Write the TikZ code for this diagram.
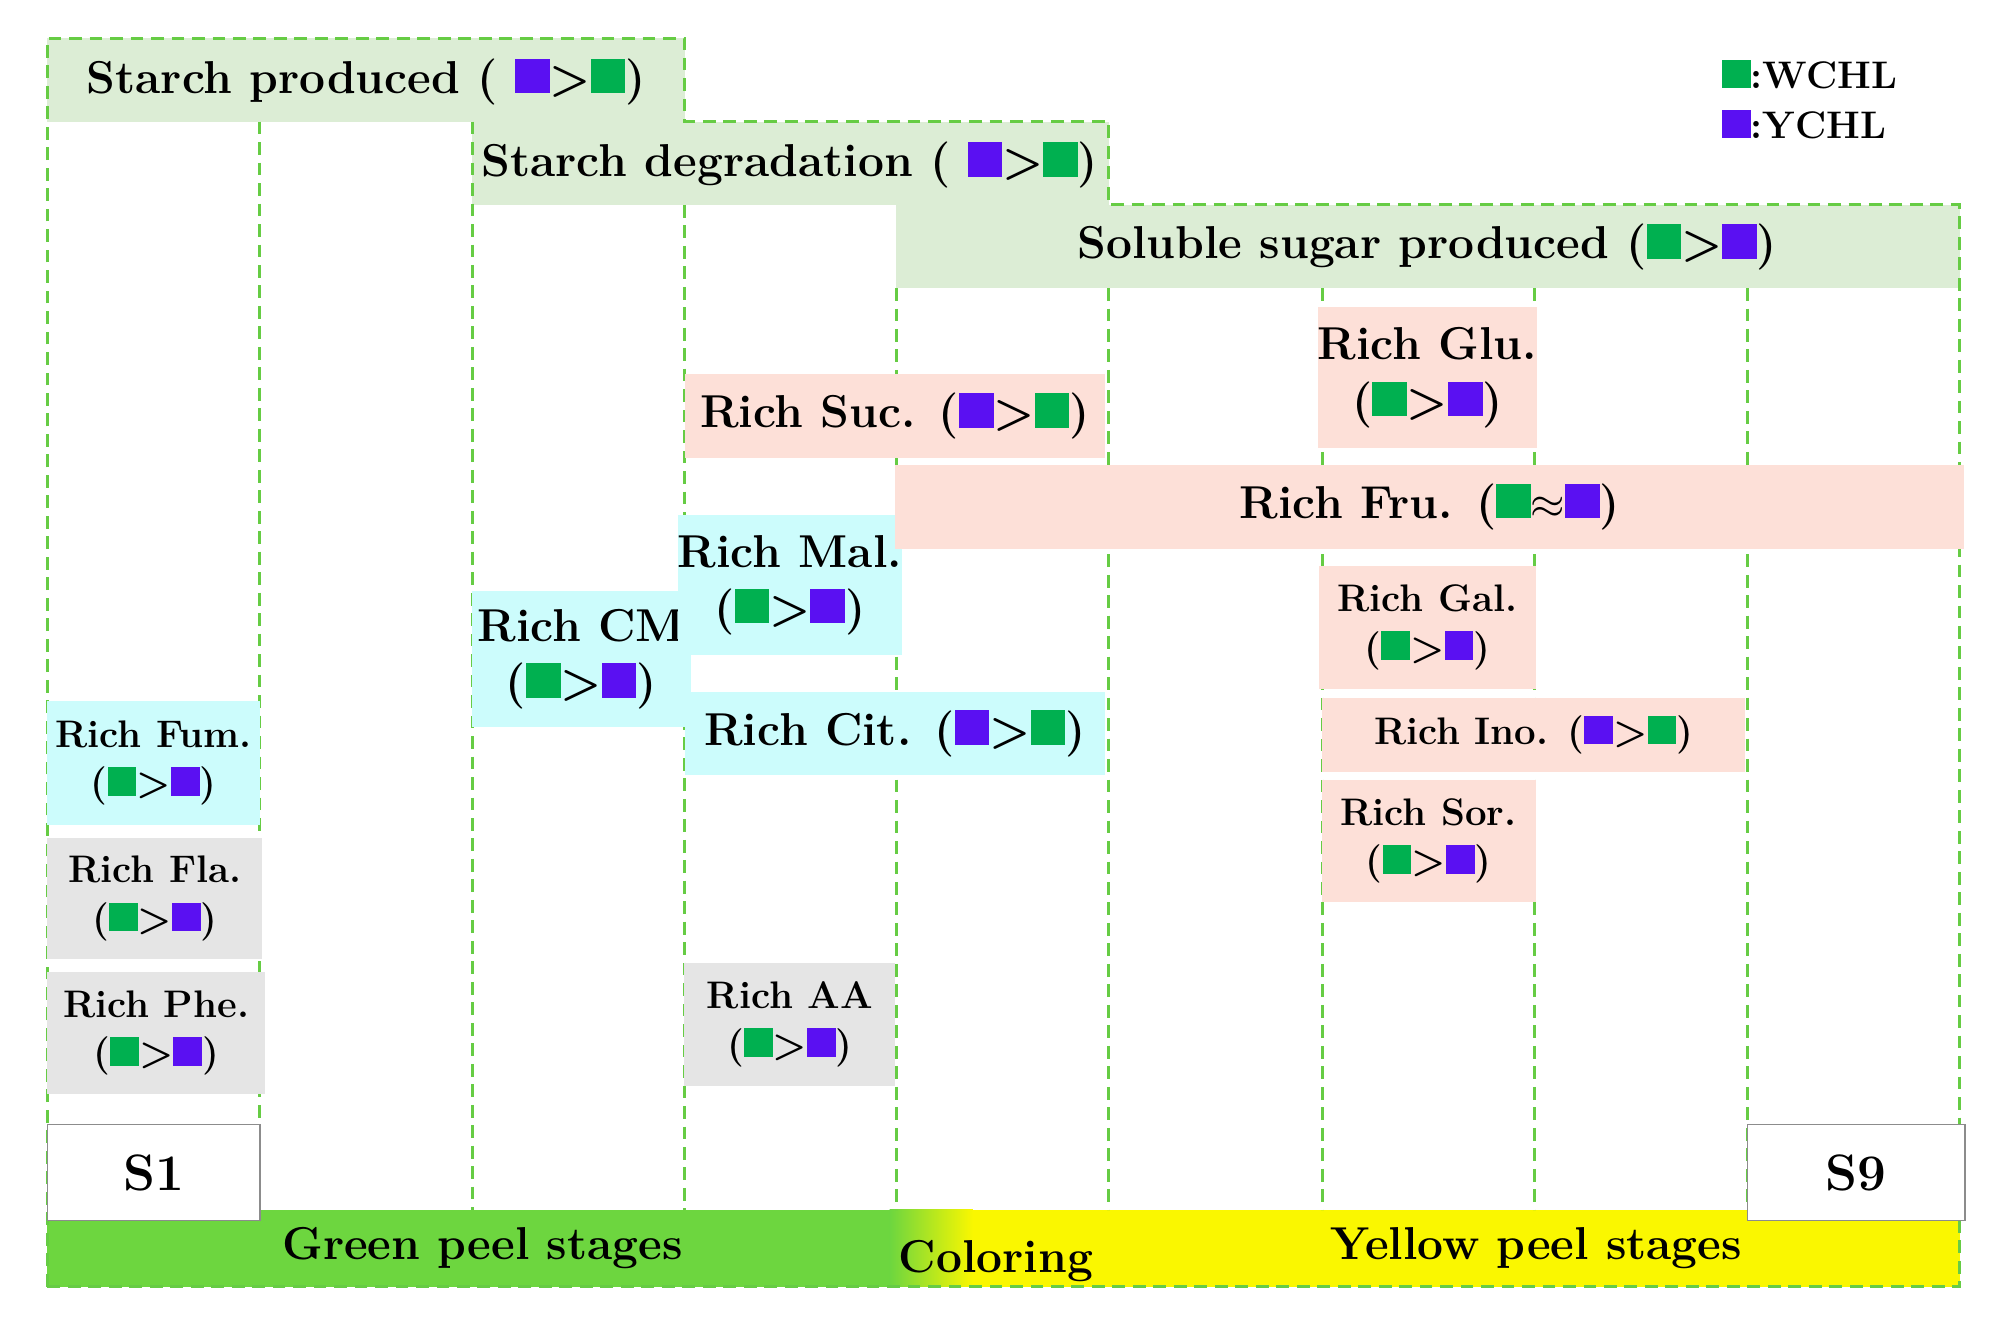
\documentclass[tikz,border=0pt]{standalone}
\usepackage{xcolor}
\definecolor{lg}{HTML}{DCEDD5}
\definecolor{cy}{HTML}{CCFCFC}
\definecolor{pk}{HTML}{FDE0D8}
\definecolor{gy}{HTML}{E5E5E5}
\definecolor{gs}{HTML}{00B050}
\definecolor{ps}{HTML}{5A10F2}
\definecolor{dlc}{HTML}{66CC44}
\definecolor{gb}{HTML}{6DD63F}
\definecolor{yb}{HTML}{FAF700}
\newcommand{\gq}{\textcolor{gs}{\rule{0.75em}{0.75em}}}
\newcommand{\pq}{\textcolor{ps}{\rule{0.75em}{0.75em}}}
\begin{document}
\begin{tikzpicture}[x=0.5pt,y=-0.5pt,
 dsh/.style={draw=dlc,line width=1.2pt,dash pattern=on 5pt off 3pt},
 bx/.style={inner sep=0pt,outer sep=0pt,align=center,font=\bfseries\fontsize{15}{19}\selectfont},
 big/.style={font=\bfseries\fontsize{18}{22}\selectfont}]
\useasboundingbox (0,0) rectangle (1560,1044);
% top boxes
\fill[lg] (37,30) rectangle (535,95);
\fill[lg] (369,95) rectangle (866,160);
\fill[lg] (700,160) rectangle (1531,225);
% bottom band
\fill[gb] (37,945) rectangle (695,1005);
\shade[left color=gb,right color=yb] (695,945) rectangle (760,1005);
\fill[yb] (760,945) rectangle (1531,1005);
% dashed lines
\draw[dsh] (37,1005) -- (37,30) -- (535,30) -- (535,95) -- (866,95) -- (866,160) -- (1531,160) -- (1531,1005) -- cycle;
\foreach \x/\y in {203/95,369/95,535/160,700/225,866/225,1033/225,1199/225,1365/225}
  \draw[dsh] (\x,\y) -- (\x,945);
% labelled boxes
\node[bx,big] (sp) at (286,64) {Starch produced ( \pq>\gq)};
\node[bx,big] (sd) at (617,129) {Starch degradation ( \pq>\gq)};
\node[bx,big] (ss) at (1115,193) {Soluble sugar produced (\gq>\pq)};
\node[bx,fill=cy,minimum width=83pt,minimum height=48.5pt] (fum) at (120,596) {Rich Fum.\\(\gq>\pq)};
\node[bx,fill=gy,minimum width=84pt,minimum height=47.5pt] (fla) at (121,702) {Rich Fla.\\(\gq>\pq)};
\node[bx,fill=gy,minimum width=85pt,minimum height=47.5pt] (phe) at (122,807) {Rich Phe.\\(\gq>\pq)};
\node[bx,big,fill=cy,minimum width=85.5pt,minimum height=53pt] (cm) at (454,515) {Rich CM\\(\gq>\pq)};
\node[bx,big,fill=cy,minimum width=82.5pt,minimum height=54.5pt] (mal) at (617,457) {Rich Mal.\\(\gq>\pq)};
\node[bx,big,fill=cy,minimum width=164pt,minimum height=32.5pt] (cit) at (699,573) {Rich Cit. (\pq>\gq)};
\node[bx,fill=gy,minimum width=82.5pt,minimum height=48pt] (aa) at (617,800) {Rich AA\\(\gq>\pq)};
\node[bx,big,fill=pk,minimum width=164pt,minimum height=32.5pt] (suc) at (699,325) {Rich Suc. (\pq>\gq)};
\node[bx,big,fill=pk,minimum width=82pt,minimum height=55pt] (glu) at (1115,295) {Rich Glu.\\(\gq>\pq)};
\node[bx,big,fill=pk,minimum width=417.5pt,minimum height=32.5pt] (fru) at (1117,396) {Rich Fru. (\gq$\approx$\pq)};
\node[bx,fill=pk,minimum width=85pt,minimum height=48pt] (gal) at (1115,490) {Rich Gal.\\(\gq>\pq)};
\node[bx,fill=pk,minimum width=165pt,minimum height=29pt] (ino) at (1198,574) {Rich Ino. (\pq>\gq)};
\node[bx,fill=pk,minimum width=83.5pt,minimum height=47.5pt] (sor) at (1116,657) {Rich Sor.\\(\gq>\pq)};
% stages
\node[bx,draw=black!45,fill=white,line width=0.6pt,minimum width=83pt,minimum height=37.5pt,font=\bfseries\fontsize{20}{24}\selectfont] (s1) at (120,916) {S1};
\node[bx,draw=black!45,fill=white,line width=0.6pt,minimum width=85pt,minimum height=37.5pt,font=\bfseries\fontsize{20}{24}\selectfont] (s9) at (1450,916) {S9};
\node[bx,big] (gps) at (377,975) {Green peel stages};
\node[bx,big] (col) at (778,985) {Coloring};
\node[bx,big] (yps) at (1200,975) {Yellow peel stages};
% legend
\node[bx,anchor=west,font=\bfseries\fontsize{15}{18}\selectfont] (lw) at (1345,58) {\gq:WCHL};
\node[bx,anchor=west,font=\bfseries\fontsize{15}{18}\selectfont] (ly) at (1345,97) {\pq:YCHL};
\end{tikzpicture}
\end{document}
